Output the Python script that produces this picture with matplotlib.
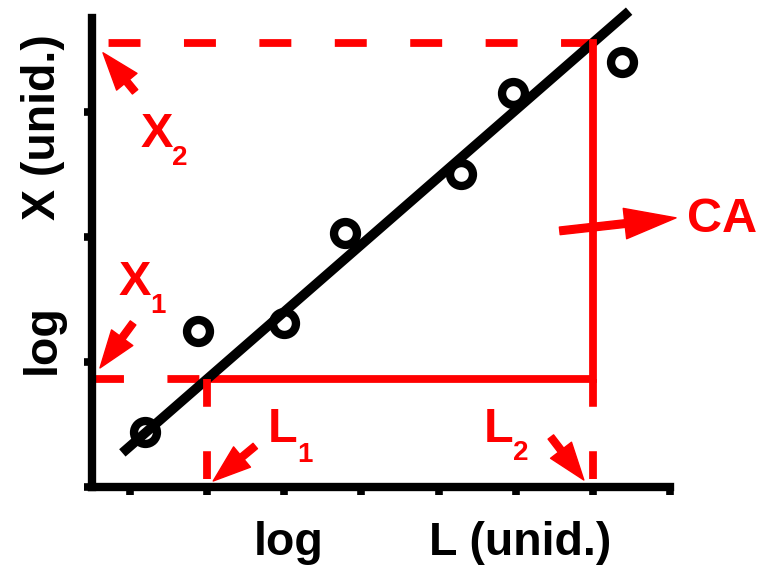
import matplotlib.pyplot as plt
from matplotlib.patches import ArrowStyle

plt.rcParams['font.family'] = ['Liberation Sans', 'DejaVu Sans']
plt.rcParams['font.weight'] = 'bold'
plt.rcParams['lines.scale_dashes'] = False

# experimental points (log L, log X)
log_L = [1.2, 1.88, 2.99, 3.79, 5.29, 5.97, 7.38]
log_X = [0.44, 1.25, 1.31, 2.03, 2.50, 3.15, 3.40]

# limits of the linear range
L1, L2 = 2.0, 7.0
X1, X2 = 0.864, 3.552
fit_range = [0.9, 7.47]

x_ticks = [1, 2, 3, 4, 5, 6, 7, 8]
y_ticks = [0, 1, 2, 3]

red = '#ff0000'
W, H = 766, 568


def fig_xy(px, py):
    return px / W, 1 - py / H


fig = plt.figure(figsize=(W / 100, H / 100), dpi=100)
ax = fig.add_axes([91.5 / W, 81 / H, 578.5 / W, 469 / H])
ax.set_xlim(0.5, 8.0)
ax.set_ylim(0, 3.75)
for s in ['top', 'right']:
    ax.spines[s].set_visible(False)
for s in ['left', 'bottom']:
    ax.spines[s].set_linewidth(6)
ax.set_xticks(x_ticks)
ax.set_yticks(y_ticks)
ax.tick_params(direction='out', length=6, width=5.5,
               labelbottom=False, labelleft=False)

# red guide lines
lw_red = 5.6
dash_h = (23, 31.3)
dash_v = (20, 32)
ax.plot([L2, 0.5], [X2, X2], color=red, lw=lw_red, dashes=dash_h,
        dash_capstyle='butt', clip_on=False)
ax.plot([0.5, L1], [X1, X1], color=red, lw=lw_red, dashes=dash_h,
        dash_capstyle='butt')
ax.plot([L1, L2], [X1, X1], color=red, lw=lw_red, solid_capstyle='butt')

# linear fit through the two limits
slope = (X2 - X1) / (L2 - L1)
fit_y = [X1 + slope * (x - L1) for x in fit_range]
ax.plot(fit_range, fit_y, color='k', lw=7, solid_capstyle='butt',
        clip_on=False, zorder=3)

ax.plot([L2, L2], [X2, X1], color=red, lw=lw_red, solid_capstyle='projecting',
        zorder=3.5)
ax.plot([L1, L1], [X1, 0], color=red, lw=lw_red, dashes=dash_v,
        dash_capstyle='butt', zorder=3.5)
ax.plot([L2, L2], [X1, 0], color=red, lw=lw_red, dashes=dash_v,
        dash_capstyle='butt', zorder=3.5)

ax.plot(log_L, log_X, 'o', ms=16.5, mfc='none', mec='k', mew=6,
        clip_on=False, zorder=4)


def arrow(tip, tail, hl=27, hw=19, tw=5):
    ax.annotate('', xy=tip, xytext=tail, annotation_clip=False,
                arrowprops=dict(arrowstyle=ArrowStyle.Simple(head_length=hl, head_width=hw, tail_width=tw),
                                mutation_scale=1, color=red, lw=1,
                                joinstyle='round', shrinkA=0, shrinkB=0))


arrow((0.649, 3.472), (1.065, 3.16))
arrow((0.61, 0.952), (1.039, 1.312))
arrow((2.078, 0.048), (2.623, 0.328))
arrow((6.883, 0.056), (6.455, 0.4))
arrow((8.078, 2.152), (6.571, 2.048), hl=37, hw=22, tw=5.5)

# red labels with subscripts
labels = [('X', '2', (141, 147), (172, 165)),
          ('X', '1', (119, 295), (150, 313)),
          ('L', '1', (268, 442), (297, 462)),
          ('L', '2', (484, 442), (513, 460))]
for main, sub, p_main, p_sub in labels:
    fig.text(*fig_xy(*p_main), main, color=red, fontsize=35,
             ha='left', va='baseline')
    fig.text(*fig_xy(*p_sub), sub, color=red, fontsize=20,
             ha='left', va='baseline')
fig.text(*fig_xy(687, 232), 'CA', color=red, fontsize=35,
         ha='left', va='baseline')

# axis titles
fs_title = 33.5
fig.text(*fig_xy(254, 555), 'log', fontsize=fs_title, ha='left', va='baseline')
fig.text(*fig_xy(429, 555), 'L (unid.)', fontsize=fs_title, ha='left', va='baseline')
fig.text(*fig_xy(55, 339), 'log', fontsize=fs_title, rotation=90,
         rotation_mode='anchor', ha='center', va='baseline')
fig.text(*fig_xy(55, 127), 'X (unid.)', fontsize=fs_title, rotation=90,
         rotation_mode='anchor', ha='center', va='baseline')

fig.savefig('out.png', dpi=100)
